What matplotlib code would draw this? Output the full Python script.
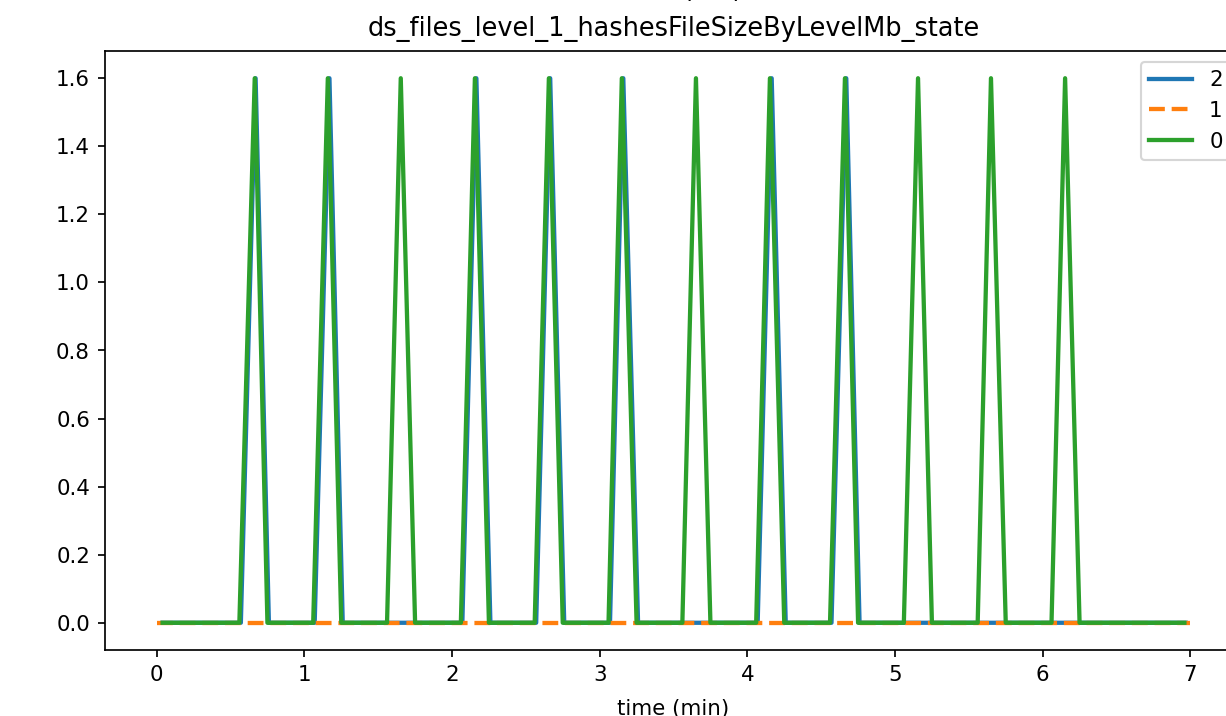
import matplotlib
matplotlib.use("Agg")
import matplotlib.pyplot as plt

# ---- DATA --------------------------------------------------------------------
TITLE = "ds_files_level_1_hashesFileSizeByLevelMb_state"
TOP_TEXT = "value (MB)"  # mostly cut off at the top edge of the reference
X_LABEL = "time (min)"

# series "2" (blue): corner points of the line
blue_t = [0.04, 0.57, 0.67, 0.76, 1.07, 1.17, 1.26, 2.07, 2.165, 2.26,
          2.57, 2.665, 2.76, 3.07, 3.16, 3.26, 4.07, 4.165, 4.26,
          4.57, 4.67, 4.76, 6.97]
blue_v = [0, 0, 1.6, 0, 0, 1.6, 0, 0, 1.6, 0,
          0, 1.6, 0, 0, 1.6, 0, 0, 1.6, 0,
          0, 1.6, 0, 0]

# series "1" (orange, dashed): flat zero
orange_t = [0.0, 7.0]
orange_v = [0, 0]

# series "0" (green)
green_t = [0.04, 0.56, 0.664, 0.75, 1.06, 1.159, 1.25, 1.56, 1.653, 1.75,
           2.06, 2.155, 2.25, 2.56, 2.656, 2.75, 3.06, 3.15, 3.25,
           3.56, 3.652, 3.75, 4.06, 4.153, 4.25, 4.56, 4.661, 4.75,
           5.06, 5.156, 5.25, 5.56, 5.65, 5.75, 6.06, 6.152, 6.25, 6.96]
green_v = [0, 0, 1.6, 0, 0, 1.6, 0, 0, 1.6, 0,
           0, 1.6, 0, 0, 1.6, 0, 0, 1.6, 0,
           0, 1.6, 0, 0, 1.6, 0, 0, 1.6, 0,
           0, 1.6, 0, 0, 1.6, 0, 0, 1.6, 0, 0]

# ---- PLOT --------------------------------------------------------------------
W, H, DPI = 1226, 716, 154
fig = plt.figure(figsize=(W / DPI, H / DPI), dpi=DPI)

# axes runs past the right edge of the picture, like the cropped original
left, right, top, bottom = 105, 1242, 51, 650
ax = fig.add_axes([left / W, (H - bottom) / H, (right - left) / W, (bottom - top) / H])

LW = 2
ax.plot(blue_t, blue_v, color="#1f77b4", lw=LW, label="2")
ax.plot(orange_t, orange_v, color="#ff7f0e", lw=LW, linestyle="--", label="1")
ax.plot(green_t, green_v, color="#2ca02c", lw=LW, label="0")

ax.set_title(TITLE, pad=7)
ax.set_xlabel(X_LABEL, labelpad=6.5)
ax.legend(loc="upper right")

fig.text((left + right) / 2 / W, 1.004, TOP_TEXT, ha="center", va="baseline", fontsize=12)

fig.savefig("out.png", dpi=DPI)
